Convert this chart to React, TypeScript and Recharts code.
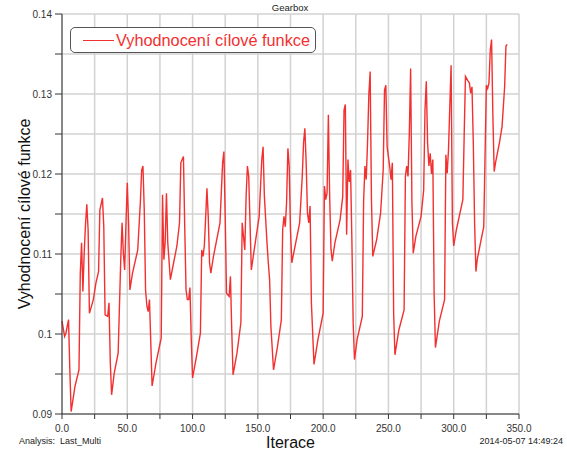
import React from 'react';
import { LineChart, Line, XAxis, YAxis, CartesianGrid, Legend } from 'recharts';

// iteration numbers and objective values
const iterations = [
  0, 2, 3, 5, 6, 7, 10, 13, 14, 15, 16, 17, 18, 19, 20, 21, 24, 26, 28, 29,
  31, 32, 33, 35, 36, 37, 38, 40, 43, 45, 46, 47, 48, 49, 50, 51, 52, 54, 58, 60,
  61, 62, 63, 64, 65, 66, 67, 68, 69, 72, 76, 77, 78, 79, 80, 81, 83, 85, 88, 90,
  91, 93, 94, 95, 96, 97, 98, 99, 100, 103, 106, 107, 108, 109, 110, 111, 112, 113, 114, 116,
  121, 123, 124, 125, 126, 128, 129, 130, 131, 134, 137, 138, 140, 141, 142, 143, 144, 145, 147, 151,
  153, 154, 155, 157, 158, 159, 160, 162, 165, 168, 169, 170, 171, 172, 173, 174, 175, 176, 179, 182,
  184, 185, 186, 187, 188, 189, 190, 191, 193, 196, 200, 201, 202, 203, 204, 205, 206, 207, 209, 213,
  215, 216, 217, 218, 219, 220, 221, 222, 223, 224, 226, 230, 231, 232, 233, 234, 235, 236, 237, 238,
  241, 244, 246, 247, 248, 249, 251, 252, 253, 254, 255, 258, 262, 263, 264, 265, 266, 267, 268, 269,
  271, 275, 277, 278, 279, 280, 281, 282, 283, 284, 285, 286, 289, 293, 294, 295, 296, 297, 298, 299,
  300, 302, 307, 308, 309, 311, 312, 313, 314, 315, 316, 317, 318, 321, 323, 325, 326, 327, 328, 329,
  330, 331, 332, 335, 337, 339, 340, 341,
];
const objective = [
  0.1016, 0.0997, 0.1001, 0.1018, 0.0955, 0.0903, 0.0935, 0.0955, 0.1076, 0.1114, 0.1053, 0.1101, 0.1137, 0.1162, 0.1130, 0.1026, 0.1043, 0.1064, 0.1078, 0.1155,
  0.1170, 0.1134, 0.1024, 0.1022, 0.1039, 0.0964, 0.0924, 0.0951, 0.0976, 0.1093, 0.1139, 0.1101, 0.1080, 0.1139, 0.1189, 0.1139, 0.1055, 0.1076, 0.1105, 0.1164,
  0.1205, 0.1210, 0.1155, 0.1055, 0.1035, 0.1028, 0.1043, 0.0989, 0.0935, 0.0964, 0.0995, 0.1174, 0.1093, 0.1114, 0.1176, 0.1114, 0.1068, 0.1085, 0.1110, 0.1139,
  0.1214, 0.1222, 0.1134, 0.1055, 0.1043, 0.1043, 0.1058, 0.0993, 0.0945, 0.0972, 0.1001, 0.1105, 0.1097, 0.1110, 0.1145, 0.1182, 0.1147, 0.1089, 0.1076, 0.1097,
  0.1139, 0.1214, 0.1228, 0.1147, 0.1051, 0.1047, 0.1072, 0.1005, 0.0949, 0.0976, 0.1014, 0.1139, 0.1105, 0.1172, 0.1210, 0.1197, 0.1139, 0.1080, 0.1103, 0.1147,
  0.1218, 0.1234, 0.1172, 0.1114, 0.1089, 0.1068, 0.1009, 0.0955, 0.0984, 0.1018, 0.1130, 0.1147, 0.1134, 0.1164, 0.1232, 0.1210, 0.1130, 0.1089, 0.1114, 0.1139,
  0.1197, 0.1239, 0.1257, 0.1214, 0.1151, 0.1139, 0.1160, 0.1039, 0.0962, 0.0993, 0.1026, 0.1185, 0.1168, 0.1176, 0.1274, 0.1172, 0.1106, 0.1091, 0.1114, 0.1143,
  0.1172, 0.1280, 0.1287, 0.1124, 0.1218, 0.1190, 0.1205, 0.1118, 0.1014, 0.0968, 0.0993, 0.1022, 0.1166, 0.1210, 0.1193, 0.1239, 0.1299, 0.1328, 0.1168, 0.1097,
  0.1118, 0.1151, 0.1205, 0.1305, 0.1311, 0.1234, 0.1209, 0.1193, 0.1214, 0.1026, 0.0974, 0.1005, 0.1030, 0.1197, 0.1210, 0.1197, 0.1251, 0.1332, 0.1164, 0.1101,
  0.1122, 0.1147, 0.1180, 0.1280, 0.1316, 0.1239, 0.1210, 0.1226, 0.1200, 0.1218, 0.1050, 0.0983, 0.1016, 0.1043, 0.1224, 0.1201, 0.1230, 0.1284, 0.1336, 0.1139,
  0.1110, 0.1130, 0.1168, 0.1247, 0.1322, 0.1316, 0.1314, 0.1301, 0.1309, 0.1239, 0.1139, 0.1078, 0.1093, 0.1118, 0.1134, 0.1311, 0.1307, 0.1314, 0.1355, 0.1368,
  0.1272, 0.1203, 0.1214, 0.1239, 0.1259, 0.1309, 0.1360, 0.1362,
];

const xTicks = [0, 25, 50, 75, 100, 125, 150, 175, 200, 225, 250, 275, 300, 325, 350];
const yTicks = [0.09, 0.095, 0.1, 0.105, 0.11, 0.115, 0.12, 0.125, 0.13, 0.135, 0.14];

const seriesName = 'Vyhodnocení cílové funkce';
const title = 'Gearbox';
const xTitle = 'Iterace';
const footLeft = 'Analysis:  Last_Multi';
const footRight = '2014-05-07 14:49:24';

const data = iterations.map((it, i) => ({ it, val: objective[i] }));

const font = '"Liberation Sans", Arial, sans-serif';
const red = '#f23030';
const axisColor = '#333';
const tickStyle = { fontSize: 10, fill: '#333', fontFamily: font };

const fmtX = (v: number) => (v % 50 === 0 ? v.toFixed(1) : '');
const fmtY = (v: number) => (Math.round(v * 1000) % 10 === 0 ? String(Math.round(v * 100) / 100) : '');

function LegendBox() {
  return (
    <div
      style={{
        border: '1px solid #555',
        borderRadius: 5,
        background: '#fff',
        width: 246,
        height: 26,
        display: 'flex',
        alignItems: 'center',
        fontFamily: font,
        fontSize: 16.3,
        color: red,
        boxSizing: 'border-box',
      }}
    >
      <span style={{ display: 'inline-block', width: 31, height: 0, borderTop: `1.5px solid ${red}`, marginLeft: 12, marginRight: 2 }} />
      <span>{seriesName}</span>
    </div>
  );
}

export default function App() {
  return (
    <div style={{ position: 'absolute', left: 0, top: 0, width: 567, height: 452, background: '#fff' }}>
      <LineChart width={567} height={452} data={data} margin={{ top: 14, right: 48, bottom: 0, left: 0 }}>
        <CartesianGrid stroke="#d2d2d2" strokeWidth={1.5} />
        <XAxis
          dataKey="it"
          type="number"
          domain={[0, 350]}
          ticks={xTicks}
          tickFormatter={fmtX}
          tick={tickStyle}
          tickSize={5}
          tickMargin={6}
          height={38}
          interval={0}
          axisLine={{ stroke: axisColor }}
          tickLine={{ stroke: axisColor }}
        />
        <XAxis
          xAxisId="top"
          orientation="top"
          type="number"
          domain={[0, 350]}
          height={0}
          tick={false}
          tickLine={false}
          axisLine={{ stroke: '#666' }}
        />
        <YAxis
          type="number"
          domain={[0.09, 0.14]}
          ticks={yTicks}
          tickFormatter={fmtY}
          tick={tickStyle}
          tickSize={7}
          tickMargin={3}
          width={62}
          interval={0}
          axisLine={{ stroke: axisColor }}
          tickLine={{ stroke: axisColor }}
        />
        <YAxis
          yAxisId="right"
          orientation="right"
          type="number"
          domain={[0.09, 0.14]}
          width={0}
          tick={false}
          tickLine={false}
          axisLine={{ stroke: '#888', strokeWidth: 2 }}
        />
        <Legend
          layout="horizontal"
          verticalAlign="middle"
          align="center"
          wrapperStyle={{ left: 70, top: 27, width: 'auto' }}
          content={() => <LegendBox />}
        />
        <Line
          type="linear"
          dataKey="val"
          name={seriesName}
          stroke={red}
          strokeWidth={1.4}
          dot={false}
          isAnimationActive={false}
        />
      </LineChart>
      <svg
        width={567}
        height={452}
        style={{ position: 'absolute', left: 0, top: 0, pointerEvents: 'none', fontFamily: font }}
      >
        <text x={290} y={11} textAnchor="middle" fontSize={9.5} fill="#222">{title}</text>
        <text transform="translate(30,214) rotate(-90)" textAnchor="middle" fontSize={16} fill="#111">{seriesName}</text>
        <text x={290.5} y={448} textAnchor="middle" fontSize={16} fill="#111">{xTitle}</text>
        <text x={19} y={444} fontSize={9} fill="#222" style={{ whiteSpace: 'pre' }}>{footLeft}</text>
        <text x={563} y={444} textAnchor="end" fontSize={9} fill="#222">{footRight}</text>
      </svg>
    </div>
  );
}
